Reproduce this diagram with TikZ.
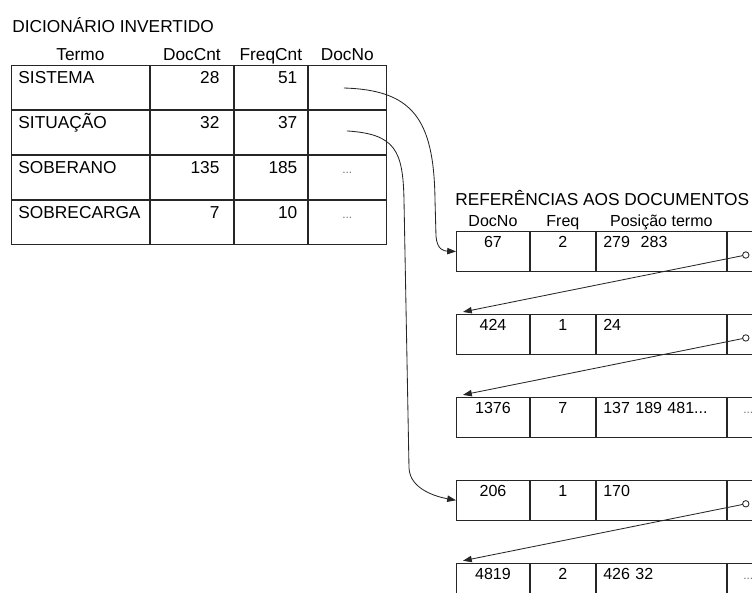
\documentclass[tikz,border=0pt]{standalone}
\usepackage{fontspec}
\setmainfont{Liberation Sans}
\usepackage{tikz}
\usetikzlibrary{positioning,arrows.meta,calc}

\newcommand{\celldots}{\textcolor{black!55}{\fontsize{8.5}{8.5}\selectfont...}}

\begin{document}
\begin{tikzpicture}[
  x=0.025cm, y=-0.025cm,
  font=\fontsize{12.3}{14}\selectfont,
  c/.style={draw=black!85, line width=0.65pt, inner ysep=0pt, inner xsep=0.175cm, anchor=north west},
  lc/.style={c, text height=0.45cm, text depth=0.65cm},
  rc/.style={c, text height=0.4cm, text depth=0.6cm, font=\fontsize{11.4}{13}\selectfont},
  tm/.style={lc, minimum width=3.45cm, text width=3.1cm, align=left},
  dc/.style={lc, minimum width=2.075cm, text width=1.375cm, align=right},
  fc/.style={lc, minimum width=1.825cm, text width=1.325cm, align=right},
  pc/.style={lc, minimum width=1.95cm, text width=1.6cm, align=center},
  dn/.style={rc, minimum width=1.825cm, text width=1.4cm, align=center},
  fq/.style={rc, minimum width=1.625cm, text width=1.2cm, align=center},
  ps/.style={rc, minimum width=3.25cm, text width=2.9cm, align=left},
  nx/.style={rc, text width=1.4cm, inner xsep=0.4cm, align=left},
  hd/.style={inner sep=0pt, text depth=0pt},
  rh/.style={hd, font=\fontsize{11.4}{13}\selectfont},
  arr/.style={-{Triangle[length=2.2mm,width=1.6mm]}, line width=0.6pt, draw=black!85},
  ring/.style={draw=black!85, fill=white, line width=0.6pt}
]
  \useasboundingbox (0,0) rectangle (752,593);
  \clip (0,0) rectangle (752,593);

  % dicionario invertido
  \node[hd, anchor=base west] (dic) at (12,32) {DICIONÁRIO INVERTIDO};
  \node[tm] (t1) at (11,65) {SISTEMA};
  \node[dc, right=0pt of t1] (t1d) {28};
  \node[fc, right=0pt of t1d] (t1f) {51};
  \node[pc, right=0pt of t1f] (t1p) {};
  \node[tm, below=0pt of t1] (t2) {SITUAÇÃO};
  \node[dc, right=0pt of t2] (t2d) {32};
  \node[fc, right=0pt of t2d] (t2f) {37};
  \node[pc, right=0pt of t2f] (t2p) {};
  \node[tm, below=0pt of t2] (t3) {SOBERANO};
  \node[dc, right=0pt of t3] (t3d) {135};
  \node[fc, right=0pt of t3d] (t3f) {185};
  \node[pc, right=0pt of t3f] (t3p) {\celldots};
  \node[tm, below=0pt of t3] (t4) {SOBRECARGA};
  \node[dc, right=0pt of t4] (t4d) {7};
  \node[fc, right=0pt of t4d] (t4f) {10};
  \node[pc, right=0pt of t4f] (t4p) {\celldots};
  \node[hd, above=3pt of t1] (hTermo) {Termo};
  \node[hd, above=3pt of t1d] (hDocCnt) {DocCnt};
  \node[hd, above=3pt of t1f] (hFreqCnt) {FreqCnt};
  \node[hd, above=3pt of t1p] (hDocNo) {DocNo};

  % referencias aos documentos
  \node[hd, anchor=base west] (ref) at (455,205) {REFERÊNCIAS AOS DOCUMENTOS};
  \node[dn] (r1) at (456,231) {67};
  \node[fq, right=0pt of r1] (r1f) {2};
  \node[ps, right=0pt of r1f] (r1p) {279\ \ 283};
  \node[nx, right=0pt of r1p] (r1n) {};
  \node[dn, below=1.05cm of r1] (r2) {424};
  \node[fq, right=0pt of r2] (r2f) {1};
  \node[ps, right=0pt of r2f] (r2p) {24};
  \node[nx, right=0pt of r2p] (r2n) {};
  \node[dn, below=1.05cm of r2] (r3) {1376};
  \node[fq, right=0pt of r3] (r3f) {7};
  \node[ps, right=0pt of r3f] (r3p) {137 189 481...};
  \node[nx, right=0pt of r3p] (r3n) {\celldots};
  \node[dn, below=1.05cm of r3] (r4) {206};
  \node[fq, right=0pt of r4] (r4f) {1};
  \node[ps, right=0pt of r4f] (r4p) {170};
  \node[nx, right=0pt of r4p] (r4n) {};
  \node[dn, below=1.05cm of r4] (r5) {4819};
  \node[fq, right=0pt of r5] (r5f) {2};
  \node[ps, right=0pt of r5f] (r5p) {426 32};
  \node[nx, right=0pt of r5p] (r5n) {\celldots};
  \node[rh, above=3pt of r1] (hNo) {DocNo};
  \node[rh, above=3pt of r1f] (hFreq) {Freq};
  \node[rh, above=3pt of r1p] (hPos) {Posição termo};

  % ponteiros
  \coordinate (s1) at ($(t1p.north west)+(36,23)$);
  \coordinate (s2) at ($(t2p.north west)+(39,21)$);
  \coordinate (o1) at ($(r1n.north west)+(19,24)$);
  \coordinate (o2) at ($(r2n.north west)+(19,24)$);
  \coordinate (o4) at ($(r4n.north west)+(19,24)$);
  \coordinate (q2) at ($(r2.north west)+(7,-2)$);
  \coordinate (q3) at ($(r3.north west)+(7,-2)$);
  \coordinate (q5) at ($(r5.north west)+(7,-2)$);
  \draw[arr] (s1) .. controls (412,90) and (434,118) .. (435,200) -- (436,236)
    .. controls (437,250) and (444,251) .. (r1.west);
  \draw[arr] (s2) .. controls (395,134) and (403,150) .. (404,200) -- (409,468)
    .. controls (410,490) and (438,497) .. (r4.west);
  \draw[arr] (o1) -- (q2);
  \draw[arr] (o2) -- (q3);
  \draw[arr] (o4) -- (q5);
  \draw[ring] (o1) circle[radius=0.08cm];
  \draw[ring] (o2) circle[radius=0.08cm];
  \draw[ring] (o4) circle[radius=0.08cm];
\end{tikzpicture}
\end{document}
